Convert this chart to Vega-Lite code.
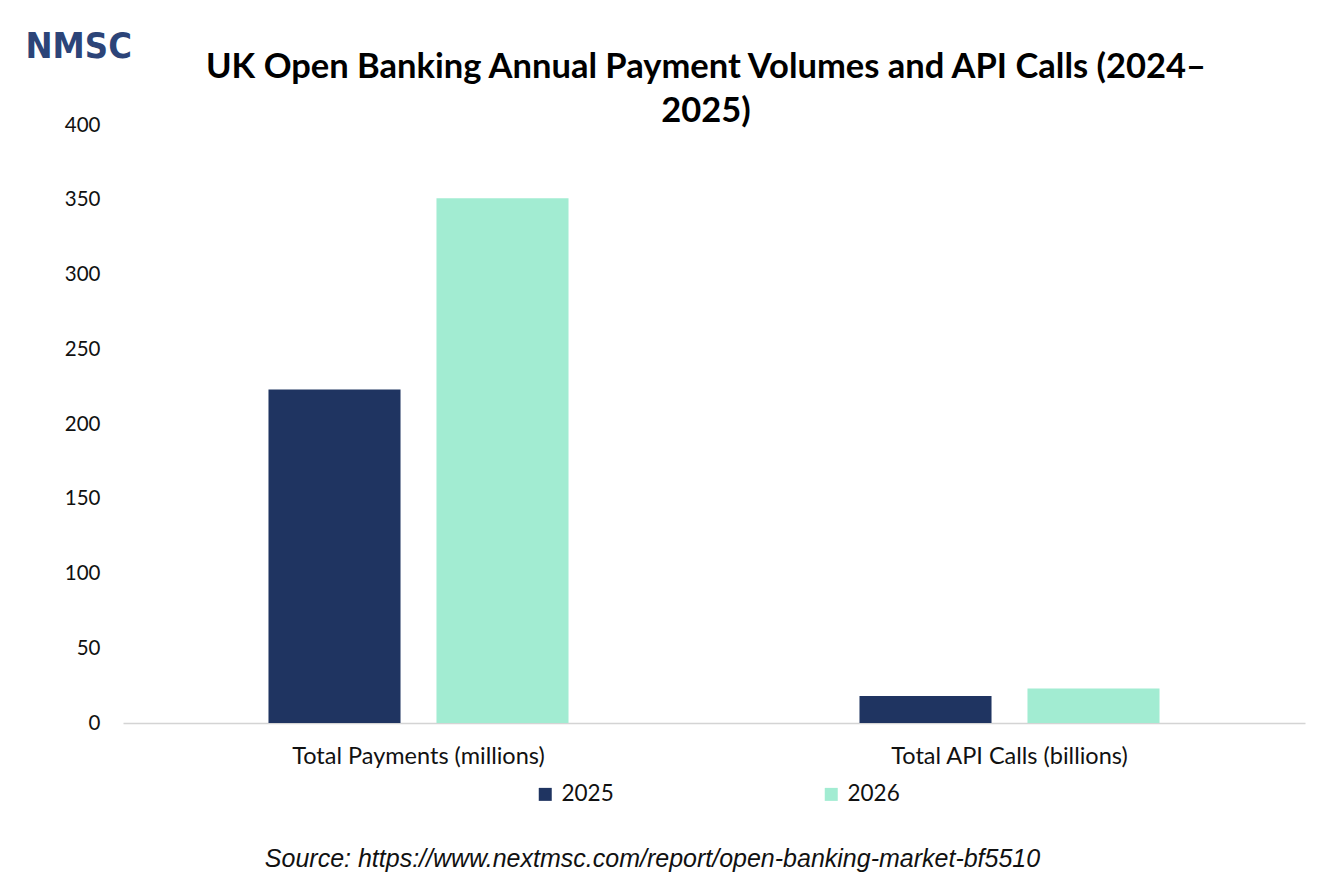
{
  "$schema": "https://vega.github.io/schema/vega-lite/v6.json",
  "description": "UK Open Banking annual payment volumes and API calls",
  "autosize": {"type": "none"},
  "padding": {"left": 123, "top": 125, "right": 29, "bottom": 166},
  "width": 1182,
  "height": 598,
  "background": "white",
  "title": {
    "text": ["UK Open Banking Annual Payment Volumes and API Calls (2024–", "2025)"],
    "font": "Lato",
    "fontSize": 34.5,
    "fontWeight": "bold",
    "color": "#000000",
    "anchor": "middle",
    "frame": "group",
    "dx": -8,
    "dy": 105,
    "offset": 4,
    "lineHeight": 44
  },
  "data": {
    "values": [
      {"metric": "Total Payments (millions)", "year": "2025", "value": 223},
      {"metric": "Total Payments (millions)", "year": "2026", "value": 351},
      {"metric": "Total API Calls (billions)", "year": "2025", "value": 18},
      {"metric": "Total API Calls (billions)", "year": "2026", "value": 23}
    ]
  },
  "mark": {"type": "bar"},
  "encoding": {
    "x": {
      "field": "metric",
      "type": "nominal",
      "sort": null,
      "scale": {"paddingInner": 0, "paddingOuter": 0},
      "axis": {
        "title": "Source: https://www.nextmsc.com/report/open-banking-market-bf5510",
        "titleFont": "Liberation Sans",
        "titleFontStyle": "italic",
        "titleFontWeight": "normal",
        "titleFontSize": 25,
        "titleColor": "#111111",
        "titleX": 529,
        "titleY": 143,
        "titleAlign": "center",
        "titleBaseline": "alphabetic",
        "labelAngle": 0,
        "labelLimit": 0,
        "labelFont": "Lato",
        "labelFontSize": 23.5,
        "labelColor": "#111111",
        "labelPadding": 21,
        "ticks": false,
        "domainColor": "#d4d4d4",
        "domainWidth": 1.5,
        "grid": false
      }
    },
    "xOffset": {
      "field": "year",
      "type": "nominal",
      "scale": {"paddingInner": 0.214, "paddingOuter": 0.866}
    },
    "y": {
      "field": "value",
      "type": "quantitative",
      "scale": {"domain": [0, 400]},
      "axis": {
        "title": "NMSC",
        "titleFont": "DejaVu Sans Condensed",
        "titleFontSize": 36,
        "titleFontWeight": "bold",
        "titleColor": "#2c4478",
        "titleAngle": 0,
        "titleAlign": "left",
        "titleBaseline": "alphabetic",
        "titleX": -98,
        "titleY": -68,
        "values": [0, 50, 100, 150, 200, 250, 300, 350, 400],
        "labelFont": "Lato",
        "labelFontSize": 20.5,
        "labelColor": "#111111",
        "labelPadding": 23,
        "ticks": false,
        "domain": false,
        "grid": false
      }
    },
    "color": {
      "field": "year",
      "type": "nominal",
      "scale": {"domain": ["2025", "2026"], "range": ["#1f3461", "#a2ecd2"]},
      "legend": {
        "title": null,
        "orient": "none",
        "direction": "horizontal",
        "legendX": 411,
        "legendY": 658,
        "padding": 0,
        "symbolType": "square",
        "symbolSize": 169,
        "symbolStrokeWidth": 0,
        "labelFont": "Lato",
        "labelFontSize": 22.5,
        "labelColor": "#111111",
        "labelOffset": 5,
        "columnPadding": 206
      }
    }
  },
  "config": {
    "view": {"stroke": null}
  }
}
